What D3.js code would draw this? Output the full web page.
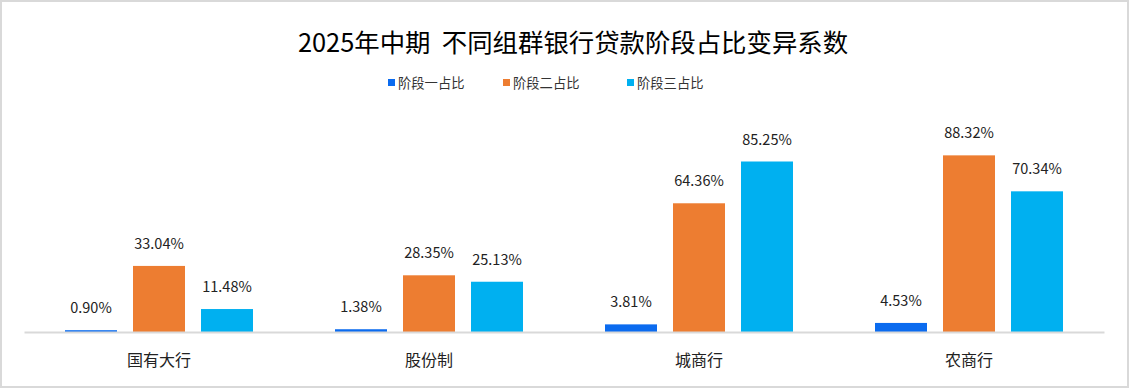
<!DOCTYPE html>
<html>
<head>
<meta charset="utf-8">
<script src="https://cdn.jsdelivr.net/npm/d3@7"></script>
<style>
  body { margin: 0; background: #fff; }
  text { font-family: "Noto Sans CJK SC", "Noto Sans", sans-serif; }
</style>
</head>
<body>
<div id="chart"></div>
<script>
const width = 1129
const height = 388
const margin = {top: 132, right: 24, bottom: 56, left: 24}

const categories = ["国有大行", "股份制", "城商行", "农商行"]
const seriesNames = ["阶段一占比", "阶段二占比", "阶段三占比"]
const stage1 = [0.90, 1.38, 3.81, 4.53]
const stage2 = [33.04, 28.35, 64.36, 88.32]
const stage3 = [11.48, 25.13, 85.25, 70.34]
const colors = ["#0B6BEF", "#ED7D31", "#00B0F0"]

const series = [stage1, stage2, stage3]

const svg = d3.select("div#chart").append("svg").attr("width", width).attr("height", height)

svg.append("rect").attr("x", 1).attr("y", 1).attr("width", width - 2).attr("height", height - 2)
    .attr("fill", "#fff").attr("stroke", "#D9D9D9").attr("stroke-width", 2)

const x = d3.scaleBand().domain(categories).range([margin.left, width - margin.right - 1])
const groupW = 188
const xSub = d3.scaleBand().domain(d3.range(3)).range([0, groupW]).paddingInner(16 / 68)
const y = d3.scaleLinear().domain([0, 100]).range([height - margin.bottom, margin.top])

svg.append("text").text("2025年中期  不同组群银行贷款阶段占比变异系数")
    .attr("x", 573).attr("y", 52).attr("text-anchor", "middle")
    .attr("font-size", 25.4).attr("fill", "#000").style("white-space", "pre")

// legend
const legendX = [388, 503, 627]
const legend = svg.append("g")
seriesNames.forEach((name, i) => {
    legend.append("rect").attr("x", legendX[i]).attr("y", 79).attr("width", 7).attr("height", 7).attr("fill", colors[i])
    legend.append("text").text(name).attr("x", legendX[i] + 10).attr("y", 88)
        .attr("font-size", 13.3).attr("fill", "#333")
})

// bars
const groups = svg.selectAll("g.grp").data(categories).enter().append("g")
    .attr("class", "grp")
    .attr("transform", d => `translate(${x(d) + x.bandwidth() / 2 - groupW / 2}, 0)`)

series.forEach((vals, s) => {
    groups.append("rect")
        .attr("x", xSub(s))
        .attr("y", (d, i) => y(vals[i]))
        .attr("width", xSub.bandwidth())
        .attr("height", (d, i) => y(0) - y(vals[i]))
        .attr("fill", colors[s])
    groups.append("text")
        .attr("x", xSub(s) + xSub.bandwidth() / 2)
        .attr("y", (d, i) => y(vals[i]) - 17)
        .attr("text-anchor", "middle")
        .attr("font-size", 14.5).attr("fill", "#222")
        .text((d, i) => vals[i].toFixed(2) + "%")
})

// axis
const xAxis = d3.axisBottom(x).tickSize(0).tickPadding(23)
const xAxisGroup = svg.append("g").attr("transform", `translate(0, ${y(0)})`).call(xAxis)
xAxisGroup.select(".domain").attr("stroke", "#D9D9D9").attr("stroke-width", 2)
xAxisGroup.selectAll("text").attr("font-size", 16).attr("fill", "#222")
    .style("font-family", "'Noto Sans CJK SC', sans-serif")
</script>
</body>
</html>
